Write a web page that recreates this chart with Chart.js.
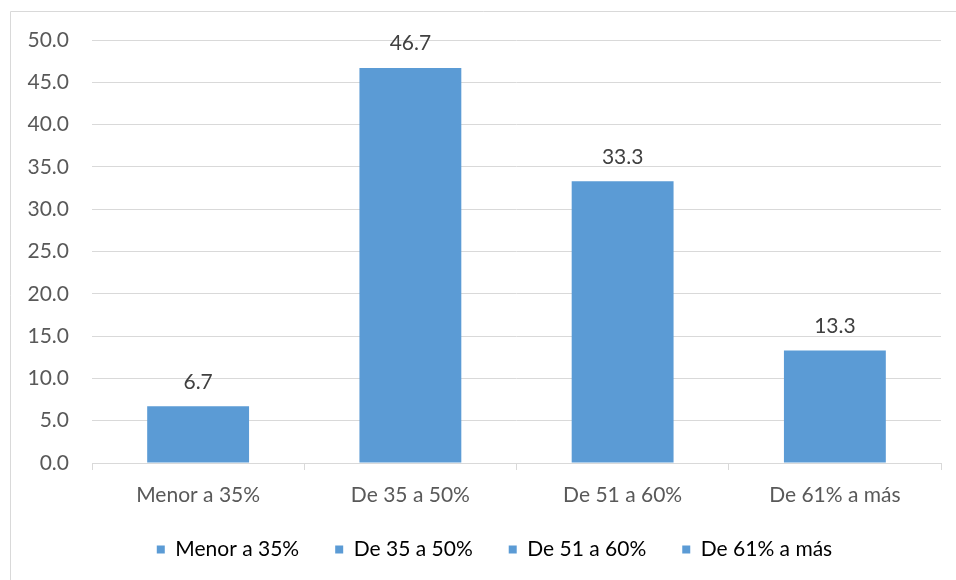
<!DOCTYPE html>
<html>
<head>
<meta charset="utf-8">
<script src="https://cdn.jsdelivr.net/npm/chart.js@4.4.1/dist/chart.umd.min.js"></script>
<style>
  html, body { margin: 0; padding: 0; background: #fff; }
  #wrap { width: 956px; height: 580px; position: relative; }
</style>
</head>
<body>
<div id="wrap"><canvas id="grafico"></canvas></div>
<script>
const categorias = ["Menor a 35%", "De 35 a 50%", "De 51 a 60%", "De 61% a más"];
const porcentajes = [6.7, 46.7, 33.3, 13.3];
const ticksY = [0, 5, 10, 15, 20, 25, 30, 35, 40, 45, 50];

const azul = "#5b9bd5";
const gris = "#d9d9d9";
const fuente = "Lato, 'Open Sans', sans-serif";

// marco fino arriba y a la izquierda
const marco = {
  id: "marco",
  beforeDraw(chart) {
    const ctx = chart.ctx;
    ctx.save();
    ctx.strokeStyle = gris;
    ctx.lineWidth = 1;
    ctx.beginPath();
    ctx.moveTo(10.5, 580);
    ctx.lineTo(10.5, 11.5);
    ctx.lineTo(956, 11.5);
    ctx.stroke();
    ctx.restore();
  }
};

// la leyenda va centrada bajo el área de barras, no bajo todo el lienzo
const moverLeyenda = {
  id: "moverLeyenda",
  afterLayout(chart) {
    chart.legend.left += 24;
    chart.legend.right += 24;
  }
};

// valores encima de cada barra
const etiquetas = {
  id: "etiquetas",
  afterDatasetsDraw(chart) {
    const ctx = chart.ctx;
    const meta = chart.getDatasetMeta(0);
    ctx.save();
    ctx.fillStyle = "#404040";
    ctx.font = "21px " + fuente;
    ctx.textAlign = "center";
    ctx.textBaseline = "middle";
    meta.data.forEach((barra, i) => {
      ctx.fillText(porcentajes[i].toFixed(1), barra.x, barra.y - 24.5);
    });
    ctx.restore();
  }
};

new Chart(document.getElementById("grafico"), {
  type: "bar",
  data: {
    labels: categorias,
    datasets: [{
      data: porcentajes,
      backgroundColor: azul,
      barPercentage: 0.48,
      categoryPercentage: 1,
    }],
  },
  options: {
    responsive: true,
    maintainAspectRatio: false,
    animation: false,
    layout: { padding: { top: 40, right: 15, bottom: 10, left: 0 } },
    plugins: {
      tooltip: { enabled: false },
      legend: {
        position: "bottom",
        labels: {
          color: "#595959",
          font: { family: fuente, size: 21 },
          boxWidth: 8,
          boxHeight: 8,
          padding: 36,
          generateLabels: () => categorias.map((c, i) => ({
            text: c,
            fillStyle: azul,
            strokeStyle: azul,
            lineWidth: 0,
            index: i,
          })),
        },
      },
    },
    scales: {
      x: {
        grid: {
          offset: true,
          drawOnChartArea: false,
          drawTicks: true,
          tickLength: 7,
          color: gris,
        },
        border: { display: true, color: gris },
        ticks: {
          color: "#595959",
          font: { family: fuente, size: 21 },
          padding: 13,
        },
        afterFit: (escala) => { escala.height = 40; },
      },
      y: {
        min: 0,
        max: 50,
        afterBuildTicks: (escala) => { escala.ticks = ticksY.map(v => ({ value: v })); },
        grid: { color: gris, drawTicks: false },
        border: { display: false },
        ticks: {
          color: "#595959",
          font: { family: fuente, size: 21 },
          padding: 23,
          callback: (v) => v.toFixed(1),
        },
        afterFit: (escala) => { escala.width = 92; },
      },
    },
  },
  plugins: [marco, moverLeyenda, etiquetas],
});
</script>
</body>
</html>
